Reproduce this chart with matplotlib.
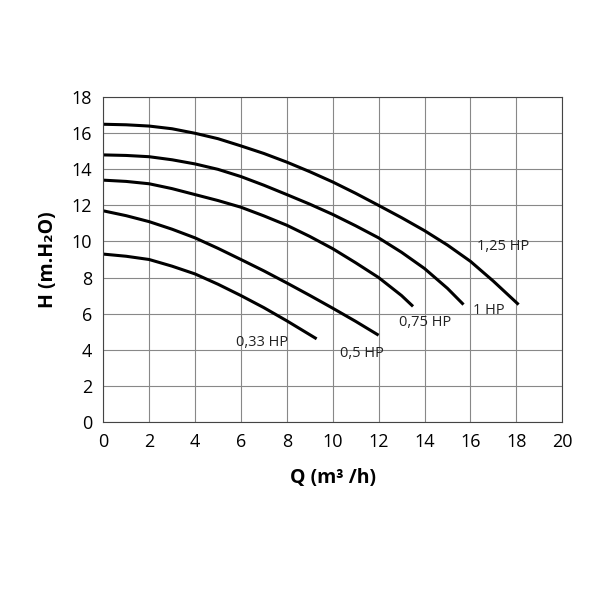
import matplotlib.pyplot as plt

plt.rcParams['font.family'] = ['Open Sans', 'DejaVu Sans']

# Pump curves: flow Q (m3/h) vs head H (m.H2O)
q_125 = [0, 1, 2, 3, 4, 5, 6, 7, 8, 9, 10, 11, 12, 13, 14, 15, 16, 17, 18.1]
h_125 = [16.5, 16.47, 16.4, 16.25, 16.0, 15.7, 15.3, 14.88, 14.4, 13.87, 13.3, 12.67, 12.0, 11.32, 10.6, 9.8, 8.9, 7.8, 6.5]
q_100 = [0, 1, 2, 3, 4, 5, 6, 7, 8, 9, 10, 11, 12, 13, 14, 15, 15.7]
h_100 = [14.8, 14.77, 14.7, 14.53, 14.3, 14.0, 13.6, 13.12, 12.6, 12.07, 11.5, 10.87, 10.2, 9.4, 8.5, 7.4, 6.5]
q_075 = [0, 1, 2, 3, 4, 5, 6, 7, 8, 9, 10, 11, 12, 13, 13.5]
h_075 = [13.4, 13.33, 13.2, 12.93, 12.6, 12.27, 11.9, 11.42, 10.9, 10.28, 9.6, 8.82, 8.0, 7.0, 6.4]
q_050 = [0, 1, 2, 3, 4, 5, 6, 7, 8, 9, 10, 11, 12]
h_050 = [11.7, 11.43, 11.1, 10.68, 10.2, 9.62, 9.0, 8.37, 7.7, 7.01, 6.3, 5.57, 4.8]
q_033 = [0, 1, 2, 3, 4, 5, 6, 7, 8, 9.3]
h_033 = [9.3, 9.18, 9.0, 8.63, 8.2, 7.63, 7.0, 6.33, 5.6, 4.6]

labels = ['1,25 HP', '1 HP', '0,75 HP', '0,5 HP', '0,33 HP']
label_pos = [(16.3, 9.5), (16.1, 6.0), (12.9, 5.3), (10.3, 3.6), (5.8, 4.2)]

fig = plt.figure(figsize=(6, 6), dpi=100)
ax = fig.add_axes([0.172, 0.297, 0.765, 0.541])

for q, h in [(q_125, h_125), (q_100, h_100), (q_075, h_075), (q_050, h_050), (q_033, h_033)]:
    ax.plot(q, h, color='black', lw=2.2, solid_capstyle='butt')

for text, (x, y) in zip(labels, label_pos):
    ax.text(x, y, text, fontsize=10.5, color='#222222')

ax.set_xlim(0, 20)
ax.set_ylim(0, 18)
ax.set_xticks(range(0, 21, 2))
ax.set_yticks(range(0, 19, 2))
ax.grid(True, color='#888888', lw=0.8)
ax.tick_params(labelsize=13, length=0, pad=8)
for s in ax.spines.values():
    s.set_color('#444444')

ax.set_xlabel('Q (m³ /h)', fontsize=14, fontweight='bold', labelpad=12)
ax.set_ylabel('H (m.H₂O)', fontsize=14, fontweight='bold', labelpad=10)

plt.savefig('out.png')
